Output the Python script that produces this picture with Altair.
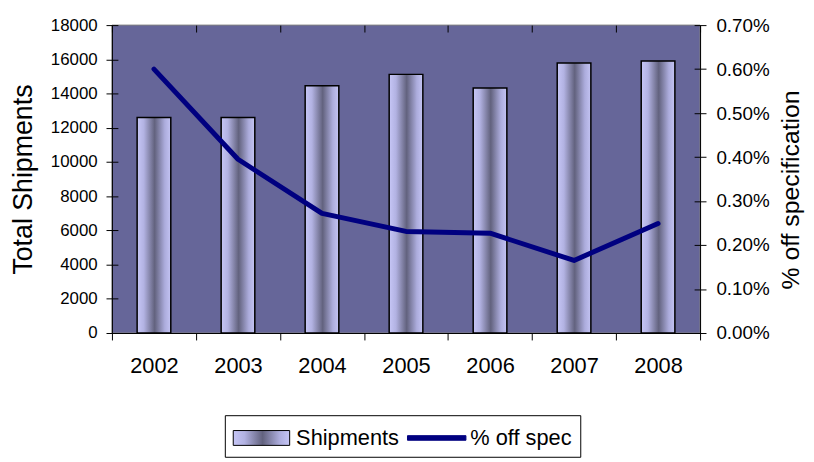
import altair as alt
import pandas as pd

# ---- data ----
years = ["2002", "2003", "2004", "2005", "2006", "2007", "2008"]
shipments = [12600, 12600, 14450, 15120, 14330, 15780, 15900]
off_spec_pct = [0.600, 0.395, 0.272, 0.231, 0.227, 0.165, 0.249]  # in percent
series_names = ["Shipments", "% off spec"]
left_ticks = [0, 2000, 4000, 6000, 8000, 10000, 12000, 14000, 16000, 18000]
right_ticks = [0.0, 0.001, 0.002, 0.003, 0.004, 0.005, 0.006, 0.007]

df = pd.DataFrame({
    "year": years,
    "shipments": shipments,
    "offspec": [v / 100 for v in off_spec_pct],
})
legend_df = pd.DataFrame({"series": series_names})
bg_df = pd.DataFrame({"series": ["background"]})

FONT = "Liberation Sans"
BG = "#666699"
NAVY = "#000080"

stops = [(0.0, "#c6c6f6"), (0.2, "#b2b2e2"), (0.52, "#62627e"),
         (0.82, "#acacdc"), (1.0, "#c4c4f4")]

bar_gradient = alt.Gradient(
    gradient="linear",
    x1=0, x2=1, y1=0, y2=0,
    stops=[alt.GradientStop(offset=o, color=c) for o, c in stops],
)
gradient_expr = (
    "{gradient: 'linear', x1: 0, y1: 0, x2: 1, y2: 0, stops: ["
    + ", ".join("{offset: %s, color: '%s'}" % (o, c) for o, c in stops)
    + "]}"
)

x_axis = alt.Axis(
    title=None, labelAngle=0, tickBand="extent", zindex=1,
    labelFont=FONT, labelFontSize=22, labelColor="black", labelPadding=16,
    tickSize=7, tickColor="black", domainColor="black", domainWidth=1,
    grid=True, gridColor="black", gridWidth=1, gridDash=[7, 1000],
)
x_enc = alt.X("year:N", sort=years,
              scale=alt.Scale(paddingInner=0, paddingOuter=0), axis=x_axis)

left_axis = alt.Axis(
    title="Total Shipments", values=left_ticks, format="d", zindex=1,
    labelFont=FONT, labelFontSize=17, labelColor="black", labelPadding=9,
    titleFont=FONT, titleFontSize=27, titleFontWeight="normal",
    titleColor="black", titlePadding=13,
    tickSize=6, tickColor="black", domainColor="black",
    grid=True, gridColor="black", gridWidth=1, gridDash=[6, 1000],
)
y_left = alt.Y("shipments:Q", scale=alt.Scale(domain=[0, 18000], nice=False),
               axis=left_axis)

background = alt.Chart(bg_df).mark_rect(
    fill=BG, stroke="#808080", strokeWidth=1
).encode(
    x=alt.value(0), x2=alt.value("width"),
    y=alt.value(0), y2=alt.value("height"),
)

bars = alt.Chart(df).mark_bar(
    fill=bar_gradient, stroke="black", strokeWidth=1.5, size=34
).encode(x=x_enc, y=y_left)

left_part = alt.layer(background, bars)

line = alt.Chart(df).mark_line(
    color=NAVY, strokeWidth=5, strokeCap="round", strokeJoin="round"
).encode(
    x=x_enc,
    y=alt.Y(
        "offspec:Q",
        scale=alt.Scale(domain=[0, 0.007], nice=False),
        axis=alt.Axis(
            orient="right", title="% off specification", values=right_ticks,
            format=".2%", zindex=1,
            labelFont=FONT, labelFontSize=19, labelColor="black", labelPadding=10,
            titleFont=FONT, titleFontSize=25, titleFontWeight="normal",
            titleColor="black", titlePadding=10, titleAngle=270,
            titleBaseline="top", titleY=166,
            tickSize=6, tickColor="black", domainColor="black",
            grid=True, gridColor="black", gridWidth=1, gridDash=[6, 1000],
        ),
    ),
)

leg = alt.Legend(
    title=None, orient="none", legendX=114, legendY=394, direction="horizontal",
    padding=8, strokeColor="black", fillColor="white",
    labelFont=FONT, labelFontSize=22, labelColor="black", labelOffset=34,
    columnPadding=6, symbolSize=841, symbolStrokeWidth=1,
)

bar_swatch = "M-1,-0.517H2.93V0.517H-1Z"
line_swatch = "M-1,-0.16H3.07V0.16H-1Z"

legend_layer = alt.Chart(legend_df).transform_filter("false").mark_point(
    filled=True, opacity=1
).encode(
    fill=alt.Fill("series:N", scale=alt.Scale(
        domain=series_names, range=[alt.ExprRef(gradient_expr), NAVY]), legend=leg),
    stroke=alt.Stroke("series:N", scale=alt.Scale(
        domain=series_names, range=["black", NAVY]), legend=leg),
    shape=alt.Shape("series:N", scale=alt.Scale(
        domain=series_names, range=[bar_swatch, line_swatch]), legend=leg),
)

chart = alt.layer(left_part, line, legend_layer).resolve_scale(
    y="independent"
).properties(
    width=594, height=311,
    autosize=alt.AutoSizeParams(type="none"),
    padding={"left": 105, "top": 15, "right": 107, "bottom": 128},
    background="white",
).configure_view(
    fill=BG, stroke="#808080", strokeWidth=1
)

chart.save("out.html", embed_options={"renderer": "svg", "actions": False})
